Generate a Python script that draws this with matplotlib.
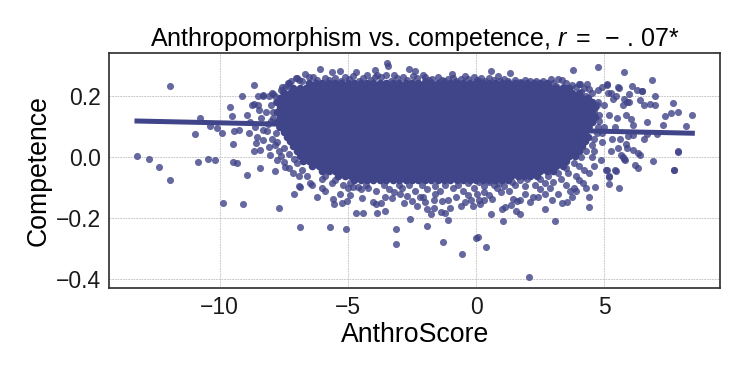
import numpy as np
import matplotlib
matplotlib.use('Agg')
from matplotlib import pyplot as plt

# ---- data ----
# dense middle of the cloud: one list of AnthroScore values per competence row
core_y = [0.244, 0.228, 0.212, 0.196, 0.180, 0.164, 0.148, 0.132, 0.116, 0.100, 0.084,
          0.068, 0.052, 0.036, 0.020, 0.004, -0.012, -0.028, -0.044, -0.060, -0.076]
core_x = [
    [-6.5, -6.25, -6.0, -5.75, -5.5, -5.25, -5.0, -4.75, -4.5, -4.25, -4.0, -3.75, -3.5, -3.25, -3.0, -2.75,
     -2.5, -2.25, -2.0, -1.75, -1.5, -1.25, -1.0, -0.75, -0.5, -0.25, 0.0, 0.25, 0.5, 0.75, 1.0, 1.25, 1.5,
     1.75, 2.0, 2.25, 2.5, 2.75],
    [-7.13, -6.88, -6.63, -6.38, -6.13, -5.88, -5.63, -5.38, -5.13, -4.88, -4.63, -4.38, -4.13, -3.88, -3.63,
     -3.38, -3.13, -2.88, -2.63, -2.38, -2.13, -1.88, -1.63, -1.38, -1.13, -0.88, -0.63, -0.38, -0.13, 0.12,
     0.37, 0.62, 0.87, 1.12, 1.37, 1.62, 1.87, 2.12, 2.37, 2.62, 2.87, 3.12, 3.37, 3.62],
    [-7.5, -7.25, -7.0, -6.75, -6.5, -6.25, -6.0, -5.75, -5.5, -5.25, -5.0, -4.75, -4.5, -4.25, -4.0, -3.75,
     -3.5, -3.25, -3.0, -2.75, -2.5, -2.25, -2.0, -1.75, -1.5, -1.25, -1.0, -0.75, -0.5, -0.25, 0.0, 0.25, 0.5,
     0.75, 1.0, 1.25, 1.5, 1.75, 2.0, 2.25, 2.5, 2.75, 3.0, 3.25, 3.5, 3.75, 4.0],
    [-7.63, -7.38, -7.13, -6.88, -6.63, -6.38, -6.13, -5.88, -5.63, -5.38, -5.13, -4.88, -4.63, -4.38, -4.13,
     -3.88, -3.63, -3.38, -3.13, -2.88, -2.63, -2.38, -2.13, -1.88, -1.63, -1.38, -1.13, -0.88, -0.63, -0.38,
     -0.13, 0.12, 0.37, 0.62, 0.87, 1.12, 1.37, 1.62, 1.87, 2.12, 2.37, 2.62, 2.87, 3.12, 3.37, 3.62, 3.87,
     4.12, 4.37],
    [-7.75, -7.5, -7.25, -7.0, -6.75, -6.5, -6.25, -6.0, -5.75, -5.5, -5.25, -5.0, -4.75, -4.5, -4.25, -4.0,
     -3.75, -3.5, -3.25, -3.0, -2.75, -2.5, -2.25, -2.0, -1.75, -1.5, -1.25, -1.0, -0.75, -0.5, -0.25, 0.0,
     0.25, 0.5, 0.75, 1.0, 1.25, 1.5, 1.75, 2.0, 2.25, 2.5, 2.75, 3.0, 3.25, 3.5, 3.75, 4.0, 4.25, 4.5],
    [-7.63, -7.38, -7.13, -6.88, -6.63, -6.38, -6.13, -5.88, -5.63, -5.38, -5.13, -4.88, -4.63, -4.38, -4.13,
     -3.88, -3.63, -3.38, -3.13, -2.88, -2.63, -2.38, -2.13, -1.88, -1.63, -1.38, -1.13, -0.88, -0.63, -0.38,
     -0.13, 0.12, 0.37, 0.62, 0.87, 1.12, 1.37, 1.62, 1.87, 2.12, 2.37, 2.62, 2.87, 3.12, 3.37, 3.62, 3.87,
     4.12, 4.37, 4.62],
    [-7.75, -7.5, -7.25, -7.0, -6.75, -6.5, -6.25, -6.0, -5.75, -5.5, -5.25, -5.0, -4.75, -4.5, -4.25, -4.0,
     -3.75, -3.5, -3.25, -3.0, -2.75, -2.5, -2.25, -2.0, -1.75, -1.5, -1.25, -1.0, -0.75, -0.5, -0.25, 0.0,
     0.25, 0.5, 0.75, 1.0, 1.25, 1.5, 1.75, 2.0, 2.25, 2.5, 2.75, 3.0, 3.25, 3.5, 3.75, 4.0, 4.25, 4.5],
    [-7.63, -7.38, -7.13, -6.88, -6.63, -6.38, -6.13, -5.88, -5.63, -5.38, -5.13, -4.88, -4.63, -4.38, -4.13,
     -3.88, -3.63, -3.38, -3.13, -2.88, -2.63, -2.38, -2.13, -1.88, -1.63, -1.38, -1.13, -0.88, -0.63, -0.38,
     -0.13, 0.12, 0.37, 0.62, 0.87, 1.12, 1.37, 1.62, 1.87, 2.12, 2.37, 2.62, 2.87, 3.12, 3.37, 3.62, 3.87,
     4.12, 4.37, 4.62],
    [-7.75, -7.5, -7.25, -7.0, -6.75, -6.5, -6.25, -6.0, -5.75, -5.5, -5.25, -5.0, -4.75, -4.5, -4.25, -4.0,
     -3.75, -3.5, -3.25, -3.0, -2.75, -2.5, -2.25, -2.0, -1.75, -1.5, -1.25, -1.0, -0.75, -0.5, -0.25, 0.0,
     0.25, 0.5, 0.75, 1.0, 1.25, 1.5, 1.75, 2.0, 2.25, 2.5, 2.75, 3.0, 3.25, 3.5, 3.75, 4.0, 4.25, 4.5],
    [-7.63, -7.38, -7.13, -6.88, -6.63, -6.38, -6.13, -5.88, -5.63, -5.38, -5.13, -4.88, -4.63, -4.38, -4.13,
     -3.88, -3.63, -3.38, -3.13, -2.88, -2.63, -2.38, -2.13, -1.88, -1.63, -1.38, -1.13, -0.88, -0.63, -0.38,
     -0.13, 0.12, 0.37, 0.62, 0.87, 1.12, 1.37, 1.62, 1.87, 2.12, 2.37, 2.62, 2.87, 3.12, 3.37, 3.62, 3.87,
     4.12, 4.37],
    [-7.5, -7.25, -7.0, -6.75, -6.5, -6.25, -6.0, -5.75, -5.5, -5.25, -5.0, -4.75, -4.5, -4.25, -4.0, -3.75,
     -3.5, -3.25, -3.0, -2.75, -2.5, -2.25, -2.0, -1.75, -1.5, -1.25, -1.0, -0.75, -0.5, -0.25, 0.0, 0.25, 0.5,
     0.75, 1.0, 1.25, 1.5, 1.75, 2.0, 2.25, 2.5, 2.75, 3.0, 3.25, 3.5, 3.75, 4.0, 4.25],
    [-7.38, -7.13, -6.88, -6.63, -6.38, -6.13, -5.88, -5.63, -5.38, -5.13, -4.88, -4.63, -4.38, -4.13, -3.88,
     -3.63, -3.38, -3.13, -2.88, -2.63, -2.38, -2.13, -1.88, -1.63, -1.38, -1.13, -0.88, -0.63, -0.38, -0.13,
     0.12, 0.37, 0.62, 0.87, 1.12, 1.37, 1.62, 1.87, 2.12, 2.37, 2.62, 2.87, 3.12, 3.37, 3.62, 3.87, 4.12,
     4.37],
    [-7.25, -7.0, -6.75, -6.5, -6.25, -6.0, -5.75, -5.5, -5.25, -5.0, -4.75, -4.5, -4.25, -4.0, -3.75, -3.5,
     -3.25, -3.0, -2.75, -2.5, -2.25, -2.0, -1.75, -1.5, -1.25, -1.0, -0.75, -0.5, -0.25, 0.0, 0.25, 0.5, 0.75,
     1.0, 1.25, 1.5, 1.75, 2.0, 2.25, 2.5, 2.75, 3.0, 3.25, 3.5, 3.75, 4.0, 4.25],
    [-7.13, -6.88, -6.63, -6.38, -6.13, -5.88, -5.63, -5.38, -5.13, -4.88, -4.63, -4.38, -4.13, -3.88, -3.63,
     -3.38, -3.13, -2.88, -2.63, -2.38, -2.13, -1.88, -1.63, -1.38, -1.13, -0.88, -0.63, -0.38, -0.13, 0.12,
     0.37, 0.62, 0.87, 1.12, 1.37, 1.62, 1.87, 2.12, 2.37, 2.62, 2.87, 3.12, 3.37, 3.62, 3.87, 4.12],
    [-7.0, -6.75, -6.5, -6.25, -6.0, -5.75, -5.5, -5.25, -5.0, -4.75, -4.5, -4.25, -4.0, -3.75, -3.5, -3.25,
     -3.0, -2.75, -2.5, -2.25, -2.0, -1.75, -1.5, -1.25, -1.0, -0.75, -0.5, -0.25, 0.0, 0.25, 0.5, 0.75, 1.0,
     1.25, 1.5, 1.75, 2.0, 2.25, 2.5, 2.75, 3.0, 3.25, 3.5, 3.75, 4.0],
    [-6.88, -6.63, -6.38, -6.13, -5.88, -5.63, -5.38, -5.13, -4.88, -4.63, -4.38, -4.13, -3.88, -3.63, -3.38,
     -3.13, -2.88, -2.63, -2.38, -2.13, -1.88, -1.63, -1.38, -1.13, -0.88, -0.63, -0.38, -0.13, 0.12, 0.37,
     0.62, 0.87, 1.12, 1.37, 1.62, 1.87, 2.12, 2.37, 2.62, 2.87, 3.12, 3.37, 3.62, 3.87],
    [-6.75, -6.5, -6.25, -6.0, -5.75, -5.5, -5.25, -5.0, -4.75, -4.5, -4.25, -4.0, -3.75, -3.5, -3.25, -3.0,
     -2.75, -2.5, -2.25, -2.0, -1.75, -1.5, -1.25, -1.0, -0.75, -0.5, -0.25, 0.0, 0.25, 0.5, 0.75, 1.0, 1.25,
     1.5, 1.75, 2.0, 2.25, 2.5, 2.75, 3.0, 3.25, 3.5],
    [-6.38, -6.13, -5.88, -5.63, -5.38, -5.13, -4.88, -4.63, -4.38, -4.13, -3.88, -3.63, -3.38, -3.13, -2.88,
     -2.63, -2.38, -2.13, -1.88, -1.63, -1.38, -1.13, -0.88, -0.63, -0.38, -0.13, 0.12, 0.37, 0.62, 0.87,
     1.12, 1.37, 1.62, 1.87, 2.12, 2.37, 2.62, 2.87, 3.12, 3.37],
    [-6.0, -5.75, -5.5, -5.25, -5.0, -4.75, -4.5, -4.25, -4.0, -3.75, -3.5, -3.25, -3.0, -2.75, -2.5, -2.25,
     -2.0, -1.75, -1.5, -1.25, -1.0, -0.75, -0.5, -0.25, 0.0, 0.25, 0.5, 0.75, 1.0, 1.25, 1.5, 1.75, 2.0,
     2.25, 2.5, 2.75, 3.0],
    [-5.38, -5.13, -4.88, -4.63, -4.38, -4.13, -3.88, -3.63, -3.38, -3.13, -2.88, -2.63, -2.38, -2.13, -1.88,
     -1.63, -1.38, -1.13, -0.88, -0.63, -0.38, -0.13, 0.12, 0.37, 0.62, 0.87, 1.12, 1.37, 1.62, 1.87, 2.12,
     2.37],
    [-4.75, -4.5, -4.25, -4.0, -3.75, -3.5, -3.25, -3.0, -2.75, -2.5, -2.25, -2.0, -1.75, -1.5, -1.25, -1.0,
     -0.75, -0.5, -0.25, 0.0, 0.25, 0.5, 0.75, 1.0, 1.25],
]

# single points around the cloud and the outliers (AnthroScore, Competence)
edge_pts = [
    # far left
    (-13.22, 0.005), (-12.77, -0.007), (-12.35, -0.031), (-11.95, -0.074), (-11.92, 0.234),
    (-10.95, 0.076), (-10.84, -0.014), (-10.47, -0.006), (-10.19, -0.008), (-10.78, 0.129),
    (-10.36, 0.103), (-10.10, 0.095), (-9.89, 0.081), (-9.86, -0.149), (-9.48, -0.015),
    (-9.32, -0.018), (-9.09, -0.153), (-8.93, -0.058), (-9.48, 0.044), (-9.45, 0.086),
    (-9.23, 0.088), (-9.60, 0.166), (-9.53, 0.137), (-9.13, 0.202), (-8.67, 0.238),
    # left shoulder
    (-8.93, 0.139), (-8.80, 0.117), (-8.54, 0.068), (-8.57, 0.046), (-8.67, 0.022), (-8.44, 0.024),
    (-8.29, 0.057), (-8.09, 0.035), (-8.02, 0.008), (-7.77, -0.009), (-8.52, 0.171), (-8.74, 0.171),
    (-8.29, 0.204), (-8.09, 0.200), (-7.96, 0.210), (-7.51, 0.215), (-7.35, 0.245), (-7.01, 0.259),
    (-8.67, 0.174), (-8.52, 0.200), (-8.31, 0.200), (-7.90, 0.209), (-7.57, 0.231), (-7.31, 0.245),
    (-8.87, 0.081), (-8.44, -0.036), (-7.83, -0.044), (-7.44, -0.031), (-7.30, -0.036),
    (-7.12, -0.052), (-6.92, -0.061), (-6.92, -0.094), (-7.09, -0.120), (-6.88, -0.096),
    (-8.20, 0.150), (-8.00, 0.170), (-7.90, 0.130), (-8.10, 0.110), (-7.80, 0.180), (-7.70, 0.100),
    (-8.40, 0.130), (-8.15, 0.085), (-7.95, 0.060), (-7.85, 0.040), (-7.70, 0.020), (-8.30, 0.090),
    (-8.60, 0.100), (-8.45, 0.155), (-7.60, 0.005), (-7.50, -0.015), (-7.65, 0.195), (-7.45, 0.230),
    (-7.70, -0.165), (-6.88, -0.230), (-7.90, 0.150), (-8.00, 0.120), (-7.80, 0.080), (-7.75, 0.050),
    (-7.50, 0.030), (-7.30, 0.010), (-7.10, -0.005), (-7.85, 0.200), (-7.60, 0.220), (-7.30, 0.235),
    # top edge
    (-6.99, 0.260), (-6.66, 0.274), (-6.36, 0.263), (-6.08, 0.289), (-5.62, 0.280), (-5.30, 0.282),
    (-5.50, 0.260), (-4.94, 0.256), (-4.67, 0.280), (-4.26, 0.271), (-3.96, 0.285), (-3.87, 0.271),
    (-3.46, 0.309), (-3.42, 0.299), (-3.50, 0.270), (-2.60, 0.290), (-2.38, 0.283), (-2.08, 0.271),
    (-1.99, 0.263), (-1.34, 0.252), (-0.95, 0.274), (-0.91, 0.260), (0.03, 0.255), (0.57, 0.282),
    (1.32, 0.276), (0.86, 0.265), (0.20, 0.260), (0.50, 0.260), (2.92, 0.258), (3.19, 0.256),
    (3.34, 0.252), (1.97, 0.239), (2.23, 0.236), (2.47, 0.238), (-6.20, 0.255), (-5.90, 0.260),
    (-5.10, 0.262), (-4.40, 0.260), (-3.70, 0.262), (-3.10, 0.260), (-2.85, 0.262), (-2.30, 0.260),
    (-1.70, 0.256), (-1.10, 0.258), (-0.60, 0.256), (-0.30, 0.258), (0.35, 0.250), (0.95, 0.250),
    (1.50, 0.252), (1.70, 0.248), (2.60, 0.250), (3.00, 0.245), (3.50, 0.245), (-7.20, 0.250),
    (-6.80, 0.250), (-4.10, 0.255), (1.10, 0.256), (2.10, 0.250), (-2.00, 0.250), (-1.50, 0.262),
    (-0.10, 0.262), (3.60, 0.228), (3.90, 0.230), (4.20, 0.226), (4.50, 0.210), (4.30, 0.200),
    (4.10, 0.215), (-6.90, 0.252), (-6.50, 0.262), (-5.75, 0.252), (-5.25, 0.250), (-4.80, 0.265),
    (-4.55, 0.250), (-3.95, 0.262), (-3.30, 0.250), (-3.20, 0.270), (-2.70, 0.252), (-2.45, 0.268),
    (-1.85, 0.255), (-1.25, 0.250), (-0.80, 0.250), (-0.45, 0.265), (0.10, 0.250), (0.70, 0.252),
    (1.25, 0.250), (1.90, 0.252), (2.35, 0.250), (2.80, 0.240), (3.10, 0.235), (3.40, 0.232),
    # right side
    (6.07, 0.234), (6.45, 0.218), (6.97, 0.201), (6.39, 0.188), (6.78, 0.174), (6.97, 0.172),
    (7.69, 0.177), (7.88, 0.150), (7.58, 0.146), (7.36, 0.135), (7.30, 0.106), (8.43, 0.139),
    (8.18, 0.103), (7.86, 0.022), (7.73, -0.042), (7.04, 0.076), (6.91, -0.012), (6.32, -0.036),
    (6.19, -0.025), (6.39, 0.008), (6.13, 0.024), (5.90, 0.030), (5.84, 0.045), (5.73, 0.000),
    (5.64, 0.008), (5.41, -0.042), (5.10, -0.040), (5.94, 0.070), (6.13, 0.074), (6.67, 0.117),
    (6.67, 0.076), (6.54, 0.059), (6.13, 0.107), (6.03, 0.125), (5.84, 0.140), (5.90, 0.180),
    (5.71, 0.170), (5.52, 0.230), (5.45, 0.200), (5.10, 0.240), (5.16, 0.210), (5.35, 0.190),
    (4.77, 0.220), (4.90, 0.230), (4.34, 0.240), (4.00, 0.240), (3.79, 0.285), (4.76, 0.297),
    (5.78, 0.280), (6.84, 0.252), (5.12, 0.236), (5.58, 0.227), (6.26, 0.220), (6.48, 0.216),
    (5.97, 0.209), (6.55, 0.172), (5.76, 0.190), (5.95, 0.180), (5.25, 0.210), (4.42, 0.225),
    (4.05, 0.241), (3.73, 0.236), (5.45, -0.044), (5.17, -0.064), (5.18, -0.088), (5.58, -0.102),
    (5.19, -0.061), (5.08, -0.040), (5.77, -0.005), (5.80, -0.010), (6.32, 0.014), (7.71, -0.042),
    (7.88, 0.018), (4.60, 0.150), (4.80, 0.120), (4.70, 0.080), (4.90, 0.050), (4.60, 0.020),
    (5.00, 0.100), (5.20, 0.140), (5.30, 0.060), (5.00, 0.170), (4.75, 0.180), (5.40, 0.100),
    (5.50, 0.130), (4.85, -0.010), (4.60, -0.030), (5.25, 0.020), (4.50, 0.000), (5.60, 0.060),
    (5.55, 0.030), (4.70, 0.170), (4.80, 0.140), (4.75, 0.100), (4.60, 0.060), (4.50, 0.040),
    (4.40, 0.100), (4.90, 0.080),
    # bottom edge, right half
    (4.40, -0.050), (4.20, -0.040), (4.00, -0.030), (3.90, -0.060), (3.60, -0.050), (3.30, -0.070),
    (3.00, -0.080), (2.70, -0.085), (2.30, -0.090), (1.90, -0.095), (1.50, -0.090), (1.10, -0.095),
    (0.70, -0.090), (0.30, -0.095), (-0.10, -0.100), (4.64, -0.096), (4.42, -0.162), (4.42, -0.129),
    (4.18, -0.085), (3.80, -0.100), (3.67, -0.110), (3.73, -0.131), (3.34, -0.151), (3.53, -0.146),
    (3.08, -0.208), (2.69, -0.171), (3.20, -0.120), (2.70, -0.120), (2.40, -0.130), (2.20, -0.130),
    (1.72, -0.140), (1.56, -0.175), (1.71, -0.186), (1.45, -0.138), (1.58, -0.143), (1.00, -0.171),
    (1.13, -0.164), (1.06, -0.208), (0.98, -0.115), (0.61, -0.138), (0.57, -0.187), (0.31, -0.115),
    (0.12, -0.140), (0.39, -0.293), (2.08, -0.393), (0.00, -0.266), (0.09, -0.260), (0.80, -0.100),
    (1.30, -0.110), (1.90, -0.120), (2.50, -0.105), (2.90, -0.100), (3.50, -0.090), (4.00, -0.075),
    (0.05, -0.120), (0.50, -0.125), (2.10, -0.145), (1.35, -0.155), (2.95, -0.140), (3.90, -0.110),
    (4.30, -0.100), (0.10, -0.080), (0.50, -0.080), (0.90, -0.085), (1.40, -0.080), (1.70, -0.075),
    (2.00, -0.070), (2.50, -0.070), (2.80, -0.060), (3.20, -0.050), (3.50, -0.035), (3.80, -0.020),
    (4.10, 0.000), (4.30, 0.020),
    # bottom edge, left half
    (-6.47, -0.083), (-6.40, -0.090), (-6.21, -0.129), (-5.88, -0.109), (-5.58, -0.138),
    (-5.54, -0.153), (-5.23, -0.149), (-5.04, -0.142), (-5.20, -0.090), (-4.80, -0.098),
    (-4.60, -0.098), (-4.45, -0.132), (-4.69, -0.184), (-4.39, -0.184), (-4.20, -0.100),
    (-4.00, -0.146), (-3.90, -0.154), (-3.87, -0.184), (-3.57, -0.176), (-3.56, -0.130),
    (-3.28, -0.132), (-3.12, -0.236), (-3.12, -0.285), (-2.98, -0.120), (-2.68, -0.127),
    (-2.57, -0.202), (-2.50, -0.142), (-2.31, -0.160), (-2.06, -0.130), (-1.90, -0.225),
    (-1.90, -0.170), (-1.75, -0.186), (-1.65, -0.140), (-1.64, -0.165), (-1.38, -0.178),
    (-1.32, -0.142), (-1.30, -0.279), (-1.08, -0.206), (-1.20, -0.183), (-1.00, -0.166),
    (-0.56, -0.318), (-0.60, -0.160), (-0.42, -0.145), (-0.14, -0.160), (0.17, -0.153),
    (-5.69, -0.230), (-5.09, -0.236), (-6.00, -0.070), (-5.60, -0.085), (-5.00, -0.100),
    (-4.50, -0.105), (-3.90, -0.110), (-3.40, -0.105), (-2.90, -0.100), (-2.40, -0.110),
    (-1.90, -0.105), (-1.40, -0.110), (-0.90, -0.100), (-0.50, -0.110), (-6.60, -0.060),
    (-6.80, -0.040), (-7.00, -0.020), (-3.70, -0.150), (-2.80, -0.150), (-2.20, -0.130),
    (-1.60, -0.120), (-0.80, -0.130), (-0.30, -0.125), (-5.30, -0.120), (-6.00, -0.100),
    (-4.90, -0.125), (-3.20, -0.115), (-2.00, -0.145), (-1.10, -0.140), (-0.20, -0.140),
    (0.30, -0.140), (-5.90, -0.060), (-5.50, -0.075), (-4.90, -0.085), (-4.30, -0.090),
    (-3.60, -0.092), (-3.00, -0.090), (-2.60, -0.092), (-2.10, -0.090), (-1.60, -0.095),
    (-1.20, -0.090), (-0.70, -0.090), (-0.30, -0.085),
]

# fitted regression line, ends at the smallest and largest AnthroScore
fit_x = [-13.22, 8.43]
fit_y = [0.119, 0.079]

x_ticks = [-10, -5, 0, 5]
y_ticks = [-0.4, -0.2, 0.0, 0.2]

# ---- drawing ----
plt.rcParams['font.family'] = ['Liberation Sans', 'DejaVu Sans']
plt.rcParams['mathtext.fontset'] = 'custom'
plt.rcParams['mathtext.rm'] = 'Liberation Sans'
plt.rcParams['mathtext.it'] = 'Liberation Sans:italic'

color = '#404488'

cx = np.concatenate([np.array(row) for row in core_x])
cy = np.concatenate([np.full(len(row), yv) for row, yv in zip(core_x, core_y)])
ex = np.array([p[0] for p in edge_pts])
ey = np.array([p[1] for p in edge_pts])

fig = plt.figure(figsize=(7.47, 3.74), dpi=100)
ax = fig.add_axes([0.1463, 0.2307, 0.8176, 0.6268])

# the core is thousands of overlapping points in the original, so it reads as solid
ax.scatter(cx, cy, s=30, color=color, alpha=1.0, linewidths=0, zorder=2)
ax.scatter(ex, ey, s=26, color=color, alpha=0.8, linewidths=0, zorder=2)
ax.plot(fit_x, fit_y, color=color, lw=3.6, zorder=3)

ax.set_xlim(-14.3, 9.51)
ax.set_ylim(-0.4275, 0.341)
ax.set_xticks(x_ticks)
ax.set_yticks(y_ticks)
ax.tick_params(length=0, labelsize=16.5, pad=6, colors='#1a1a1a')
ax.grid(True, color='#bbbbbb', linestyle=(0, (2, 1.2)), linewidth=0.6)
ax.set_axisbelow(True)
for sp in ax.spines.values():
    sp.set_color('#333333')
    sp.set_linewidth(1.25)

ax.set_xlabel('AnthroScore', fontsize=19.2, labelpad=2)
ax.set_ylabel('Competence', fontsize=19.2, labelpad=3)
ax.set_title(r'Anthropomorphism vs. competence, $r\;=\;-\,.\,07$*', fontsize=18, pad=5)

fig.savefig('out.png', dpi=100)
